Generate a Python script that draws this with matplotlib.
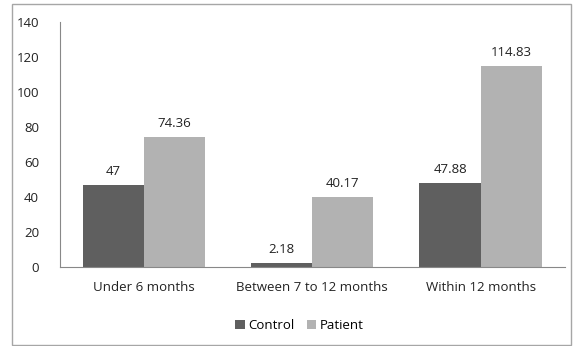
import matplotlib.pyplot as plt
import numpy as np
from matplotlib.patches import Rectangle

categories = ['Under 6 months', 'Between 7 to 12 months', 'Within 12 months']
control = [47, 2.18, 47.88]
patient = [74.36, 40.17, 114.83]
control_labels = ['47', '2.18', '47.88']
patient_labels = ['74.36', '40.17', '114.83']

plt.rcParams['font.family'] = ['Open Sans', 'DejaVu Sans']
plt.rcParams['font.size'] = 9.5

fig = plt.figure(figsize=(5.81, 3.46), dpi=100)
ax = fig.add_axes([0.103, 0.228, 0.869, 0.708])

# outer chart frame
fig.patches.append(Rectangle((0.021, 0.003), 0.961, 0.985, transform=fig.transFigure,
                             fill=False, edgecolor='#a6a6a6', linewidth=1))

index = np.arange(len(categories))
width = 0.363

rects1 = ax.bar(index - width / 2, control, width, color='#5f5f5f', label='Control')
rects2 = ax.bar(index + width / 2, patient, width, color='#b2b2b2', label='Patient')

for rects, labels in ((rects1, control_labels), (rects2, patient_labels)):
  for rect, lab in zip(rects, labels):
    ax.text(rect.get_x() + rect.get_width() / 2., rect.get_height() + 4, lab,
            ha='center', va='bottom', color='#222222')

ax.set_xlim(-0.5, 2.5)
ax.set_ylim(0, 140)
ax.set_yticks(range(0, 141, 20))
ax.set_xticks(index)
ax.set_xticklabels(categories)
ax.tick_params(axis='both', length=0, colors='#222222')
ax.tick_params(axis='y', pad=15)
ax.tick_params(axis='x', pad=10)

for side in ('top', 'right'):
  ax.spines[side].set_visible(False)
ax.spines['left'].set_color('#888888')
ax.spines['bottom'].set_color('#888888')

ax.legend(loc='upper center', bbox_to_anchor=(0.475, -0.165), ncol=2, frameon=False,
          handlelength=0.7, handleheight=0.7, handletextpad=0.3, columnspacing=0.9)

fig.savefig('out.png', dpi=100)
